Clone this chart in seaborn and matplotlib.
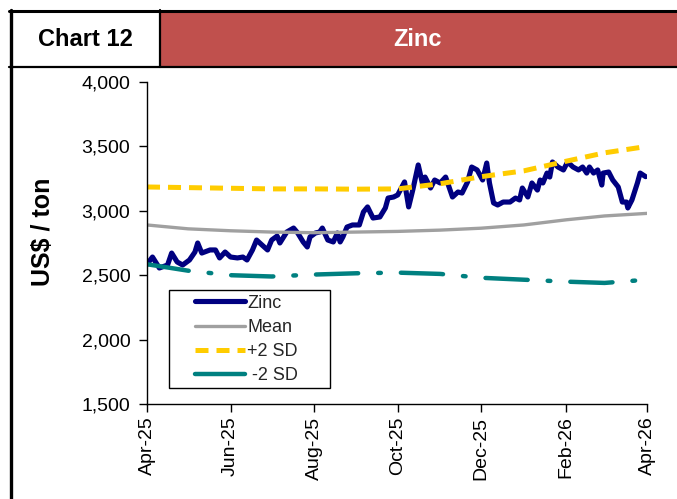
import matplotlib
matplotlib.use("Agg")
import matplotlib.pyplot as plt
import matplotlib.dates as mdates
from matplotlib.patches import Rectangle
from matplotlib.lines import Line2D
from matplotlib.ticker import FuncFormatter
import seaborn as sns
import pandas as pd

# ---------------- data ----------------
zinc_dates = [
    "2025-04-01", "2025-04-05", "2025-04-10", "2025-04-16", "2025-04-19", "2025-04-23", "2025-04-27",
    "2025-05-02", "2025-05-06", "2025-05-08", "2025-05-11", "2025-05-17", "2025-05-21", "2025-05-24",
    "2025-05-28", "2025-06-01", "2025-06-06", "2025-06-10", "2025-06-13", "2025-06-17", "2025-06-20",
    "2025-06-24", "2025-06-28", "2025-07-01", "2025-07-05", "2025-07-07", "2025-07-12", "2025-07-17",
    "2025-07-20", "2025-07-24", "2025-07-27", "2025-07-29", "2025-08-02", "2025-08-05", "2025-08-07",
    "2025-08-11", "2025-08-15", "2025-08-18", "2025-08-20", "2025-08-22", "2025-08-25", "2025-08-29",
    "2025-09-03", "2025-09-06", "2025-09-09", "2025-09-13", "2025-09-18", "2025-09-22", "2025-09-24",
    "2025-09-28", "2025-10-01", "2025-10-06", "2025-10-09", "2025-10-12", "2025-10-16", "2025-10-19",
    "2025-10-21", "2025-10-25", "2025-10-28", "2025-11-01", "2025-11-05", "2025-11-07", "2025-11-10",
    "2025-11-14", "2025-11-17", "2025-11-21", "2025-11-24", "2025-11-28", "2025-12-02", "2025-12-05",
    "2025-12-07", "2025-12-10", "2025-12-13", "2025-12-17", "2025-12-22", "2025-12-26", "2025-12-29",
    "2025-12-31", "2026-01-04", "2026-01-07", "2026-01-11", "2026-01-13", "2026-01-15", "2026-01-18",
    "2026-01-20", "2026-01-22", "2026-01-26", "2026-01-30", "2026-02-02", "2026-02-06", "2026-02-10",
    "2026-02-13", "2026-02-16", "2026-02-18", "2026-02-21", "2026-02-24", "2026-02-27", "2026-02-28",
    "2026-03-04", "2026-03-07", "2026-03-11", "2026-03-14", "2026-03-17", "2026-03-18", "2026-03-21",
    "2026-03-25", "2026-03-27", "2026-03-31",
]
zinc_values = [
    2585, 2641, 2556, 2579, 2672, 2603, 2579,
    2618, 2680, 2750, 2672, 2696, 2696, 2634,
    2680, 2641, 2634, 2641, 2618, 2696, 2773,
    2734, 2696, 2773, 2804, 2750, 2835, 2866,
    2828, 2758, 2719, 2797, 2828, 2835, 2866,
    2773, 2758, 2828, 2758, 2797, 2874, 2890,
    2890, 2991, 3030, 2944, 2952, 3022, 3099,
    3107, 3123, 3224, 3030, 3161, 3356, 3216,
    3262, 3177, 3239, 3216, 3262, 3200, 3107,
    3146, 3138, 3224, 3340, 3317, 3239, 3371,
    3216, 3061, 3045, 3068, 3068, 3099, 3084,
    3177, 3107, 3216, 3161, 3239, 3216, 3293,
    3262, 3379, 3340, 3317, 3379, 3340, 3317,
    3340, 3293, 3340, 3293, 3317, 3200, 3293,
    3301, 3239, 3185, 3068, 3068, 3022, 3084,
    3216, 3293, 3265,
]

band_dates = [
    "2025-04-01", "2025-05-01", "2025-06-01", "2025-07-01", "2025-08-01", "2025-09-01", "2025-10-01",
    "2025-11-01", "2025-12-01", "2026-01-01", "2026-02-01", "2026-03-01", "2026-04-01",
]
mean_values = [2890, 2860, 2845, 2835, 2830, 2835, 2840, 2850, 2865, 2890, 2930, 2960, 2980]
plus2sd_values = [3185, 3180, 3175, 3170, 3170, 3168, 3170, 3210, 3265, 3310, 3385, 3450, 3500]
minus2sd_values = [2585, 2535, 2500, 2490, 2505, 2515, 2520, 2510, 2480, 2465, 2450, 2440, 2465]

series_labels = ["Zinc", "Mean", "+2 SD", " -2 SD"]
x_tick_dates = ["2025-04-01", "2025-06-01", "2025-08-01", "2025-10-01", "2025-12-01", "2026-02-01", "2026-04-01"]
y_ticks = [1500, 2000, 2500, 3000, 3500, 4000]
header_left = "Chart 12"
header_title = "Zinc"
y_label = "US$ / ton"

# ---------------- style ----------------
sns.set_style("ticks")
plt.rcParams["font.family"] = ["Liberation Sans", "DejaVu Sans"]

W, H = 677, 499
fig = plt.figure(figsize=(W / 100, H / 100), dpi=100)


def fx(px):
    return px / W


def fy(py):
    return 1 - py / H


ax = fig.add_axes([fx(147), fy(404), fx(647) - fx(147), fy(82) - fy(404)])

zinc_df = pd.DataFrame({"date": pd.to_datetime(zinc_dates), "value": zinc_values})
band_df = pd.DataFrame({
    "date": pd.to_datetime(band_dates),
    "mean": mean_values,
    "plus": plus2sd_values,
    "minus": minus2sd_values,
})

navy = "#000080"
grey = "#A0A0A0"
gold = "#FFCC00"
teal = "#008080"

sns.lineplot(data=zinc_df, x="date", y="value", ax=ax, color=navy, lw=3.7,
             label=series_labels[0], solid_joinstyle="round", solid_capstyle="round")
sns.lineplot(data=band_df, x="date", y="mean", ax=ax, color=grey, lw=2.4, label=series_labels[1])
sns.lineplot(data=band_df, x="date", y="plus", ax=ax, color=gold, lw=3.6,
             label=series_labels[2], dashes=False)
sns.lineplot(data=band_df, x="date", y="minus", ax=ax, color=teal, lw=3.2,
             label=series_labels[3], dashes=False)

lines = ax.get_lines()
lines[2].set_dashes((2.6, 1.6))
lines[2].set_dash_capstyle("butt")
lines[3].set_dashes((9.5, 4.5, 0.6, 4.5))
lines[3].set_dash_capstyle("round")

ax.set_xlim(pd.Timestamp(x_tick_dates[0]), pd.Timestamp(x_tick_dates[-1]))
ax.set_ylim(y_ticks[0], y_ticks[-1])
ax.set_yticks(y_ticks)
ax.yaxis.set_major_formatter(FuncFormatter(lambda v, p: f"{int(v):,}"))
ax.set_xticks(pd.to_datetime(x_tick_dates))
ax.xaxis.set_major_formatter(mdates.DateFormatter("%b-%y"))
ax.set_xlabel("")
ax.set_ylabel("")
for lab in ax.get_xticklabels():
    lab.set_rotation(90)
ax.tick_params(axis="both", labelsize=14, length=6, width=1, color="black", labelcolor="black", direction="out")
ax.tick_params(axis="x", pad=3)
ax.tick_params(axis="y", pad=6)
for s in ["top", "right"]:
    ax.spines[s].set_visible(False)
for s in ["left", "bottom"]:
    ax.spines[s].set_color("black")
    ax.spines[s].set_linewidth(1)
ax.grid(False)

# legend
leg = ax.legend(loc="upper left", bbox_to_anchor=((197 - 147) / 500 - 0.012, (404 - 291) / 322),
                frameon=False, fontsize=13, handlelength=2.8, handletextpad=0.12,
                labelspacing=0.40, borderpad=0.2, borderaxespad=0)
leg.get_lines()[3].set_linestyle("-")
ax.add_patch(Rectangle(((169 - 147) / 500, (404 - 388) / 322), (330 - 169) / 500, (388 - 290) / 322,
                       transform=ax.transAxes, fill=True, facecolor="white", edgecolor="black",
                       lw=1.0, zorder=4))
leg.set_zorder(5)

fig.text(fx(43), fy(232), y_label, rotation=90, ha="center", va="center",
         fontsize=18, fontweight="bold", color="black")

# header
fig.patches.append(Rectangle((fx(160), fy(67)), fx(677) - fx(160), fy(10) - fy(67),
                             transform=fig.transFigure, facecolor="#C0504D", edgecolor="none", zorder=1))
fig.lines.append(Line2D([fx(9), fx(677)], [fy(10.5), fy(10.5)], transform=fig.transFigure, color="black", lw=2.2))
fig.lines.append(Line2D([fx(9), fx(677)], [fy(67), fy(67)], transform=fig.transFigure, color="black", lw=1.6))
fig.lines.append(Line2D([fx(159.5), fx(159.5)], [fy(10), fy(67)], transform=fig.transFigure, color="black", lw=1.6))
fig.lines.append(Line2D([fx(10.5), fx(10.5)], [fy(9.5), fy(499)], transform=fig.transFigure, color="black", lw=2.4))
fig.text(fx(85), fy(40), header_left, ha="center", va="center", fontsize=17, fontweight="bold", color="black")
fig.text(fx(418), fy(40), header_title, ha="center", va="center", fontsize=17, fontweight="bold", color="white")

fig.savefig("out.png", dpi=100)
